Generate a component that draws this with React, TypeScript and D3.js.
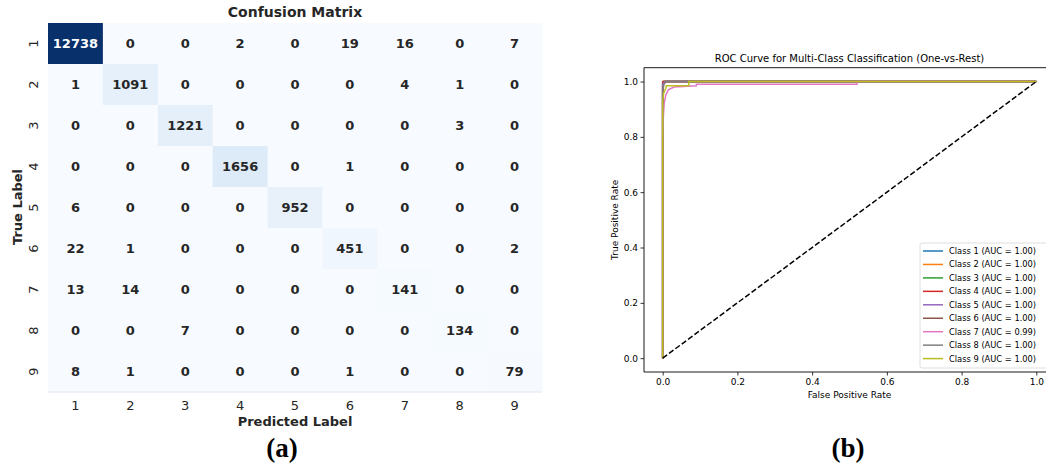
import React, { useEffect, useRef } from "react";
import * as d3 from "d3";

// confusion matrix
const labels = ["1", "2", "3", "4", "5", "6", "7", "8", "9"];
const row1 = [12738, 0, 0, 2, 0, 19, 16, 0, 7];
const row2 = [1, 1091, 0, 0, 0, 0, 4, 1, 0];
const row3 = [0, 0, 1221, 0, 0, 0, 0, 3, 0];
const row4 = [0, 0, 0, 1656, 0, 1, 0, 0, 0];
const row5 = [6, 0, 0, 0, 952, 0, 0, 0, 0];
const row6 = [22, 1, 0, 0, 0, 451, 0, 0, 2];
const row7 = [13, 14, 0, 0, 0, 0, 141, 0, 0];
const row8 = [0, 0, 7, 0, 0, 0, 0, 134, 0];
const row9 = [8, 1, 0, 0, 0, 1, 0, 0, 79];
const matrix = [row1, row2, row3, row4, row5, row6, row7, row8, row9];

// ROC curves
const classNames = ["Class 1", "Class 2", "Class 3", "Class 4", "Class 5", "Class 6", "Class 7", "Class 8", "Class 9"];
const aucValues = ["1.00", "1.00", "1.00", "1.00", "1.00", "1.00", "0.99", "1.00", "1.00"];
const fpr1 = [0, 0, 0.001, 0.004, 1];
const tpr1 = [0, 0.985, 0.995, 1, 1];
const fpr2 = [0, 0, 0.002, 1];
const tpr2 = [0, 0.99, 1, 1];
const fpr3 = [0, 0, 0.001, 1];
const tpr3 = [0, 0.997, 1, 1];
const fpr4 = [0, 0, 0.001, 1];
const tpr4 = [0, 0.998, 1, 1];
const fpr5 = [0, 0, 0.002, 0.006, 1];
const tpr5 = [0, 0.99, 0.995, 1, 1];
const fpr6 = [0, 0, 0.003, 0.008, 1];
const tpr6 = [0, 0.96, 0.99, 1, 1];
const fpr7 = [0, 0, 0.002, 0.004, 0.008, 0.015, 0.03, 0.09, 0.09, 0.52, 0.52, 1];
const tpr7 = [0, 0.8, 0.88, 0.92, 0.95, 0.97, 0.98, 0.985, 0.99, 0.99, 1, 1];
const fpr8 = [0, 0, 0.002, 0.01, 1];
const tpr8 = [0, 0.95, 0.99, 1, 1];
const fpr9 = [0, 0, 0.003, 0.008, 0.01, 0.07, 0.07, 1];
const tpr9 = [0, 0.93, 0.96, 0.975, 0.985, 0.985, 1, 1];
const fprs = [fpr1, fpr2, fpr3, fpr4, fpr5, fpr6, fpr7, fpr8, fpr9];
const tprs = [tpr1, tpr2, tpr3, tpr4, tpr5, tpr6, tpr7, tpr8, tpr9];
const rocTicks = [0, 0.2, 0.4, 0.6, 0.8, 1.0];

const palette = d3.schemeCategory10;
const sans = "'DejaVu Sans', sans-serif";
const serif = "'Liberation Serif', 'DejaVu Serif', serif";

export default function App() {
    const ref = useRef<SVGSVGElement>(null);

    useEffect(() => {
        const svg = d3.select(ref.current);
        svg.selectAll("*").remove();

        // ---------- (a) confusion matrix ----------
        const hx = d3.scaleBand().domain(labels).range([48, 542]);
        const hy = d3.scaleBand().domain(labels).range([23, 392]);
        const vmax = d3.max(matrix.flat()) as number;
        const color = d3.scaleSequential(d3.interpolateBlues).domain([0, vmax]);

        const cells = matrix.flatMap((r, i) => r.map((v, j) => ({ row: labels[i], col: labels[j], v })));
        const g = svg.append("g");
        g.selectAll("rect")
            .data(cells)
            .join("rect")
            .attr("x", (d) => hx(d.col)!)
            .attr("y", (d) => hy(d.row)!)
            .attr("width", hx.bandwidth() + 0.5)
            .attr("height", hy.bandwidth() + 0.5)
            .attr("fill", (d) => color(d.v));

        g.selectAll("text.ann")
            .data(cells)
            .join("text")
            .attr("class", "ann")
            .attr("x", (d) => hx(d.col)! + hx.bandwidth() / 2)
            .attr("y", (d) => hy(d.row)! + hy.bandwidth() / 2)
            .attr("text-anchor", "middle")
            .attr("dominant-baseline", "central")
            .attr("font-family", sans)
            .attr("font-weight", "bold")
            .attr("font-size", 13)
            .attr("fill", (d) => (d.v / vmax > 0.5 ? "#ffffff" : "#262626"))
            .text((d) => d.v);

        g.append("line")
            .attr("x1", 48).attr("x2", 542).attr("y1", 392).attr("y2", 392)
            .attr("stroke", "#e4e6f2").attr("stroke-width", 1);

        g.selectAll("text.xt")
            .data(labels)
            .join("text")
            .attr("class", "xt")
            .attr("x", (d) => hx(d)! + hx.bandwidth() / 2)
            .attr("y", 410)
            .attr("text-anchor", "middle")
            .attr("font-family", sans)
            .attr("font-size", 13)
            .attr("fill", "#262626")
            .text((d) => d);

        g.selectAll("text.yt")
            .data(labels)
            .join("text")
            .attr("class", "yt")
            .attr("transform", (d) => `translate(33,${hy(d)! + hy.bandwidth() / 2}) rotate(-90)`)
            .attr("text-anchor", "middle")
            .attr("dominant-baseline", "central")
            .attr("font-family", sans)
            .attr("font-size", 13)
            .attr("fill", "#262626")
            .text((d) => d);

        g.append("text")
            .attr("x", 295).attr("y", 17)
            .attr("text-anchor", "middle")
            .attr("font-family", sans).attr("font-weight", "bold").attr("font-size", 14)
            .attr("fill", "#262626")
            .text("Confusion Matrix");
        g.append("text")
            .attr("x", 295).attr("y", 426)
            .attr("text-anchor", "middle")
            .attr("font-family", sans).attr("font-weight", "bold").attr("font-size", 13)
            .attr("fill", "#262626")
            .text("Predicted Label");
        g.append("text")
            .attr("transform", "translate(17.5,207) rotate(-90)")
            .attr("text-anchor", "middle")
            .attr("dominant-baseline", "central")
            .attr("font-family", sans).attr("font-weight", "bold").attr("font-size", 13)
            .attr("fill", "#262626")
            .text("True Label");
        g.append("text")
            .attr("x", 282).attr("y", 457)
            .attr("text-anchor", "middle")
            .attr("font-family", serif).attr("font-weight", "bold").attr("font-size", 27)
            .attr("fill", "#000")
            .text("(a)");

        // ---------- (b) ROC ----------
        const left = 644, right = 1055, top = 67.7, bottom = 372;
        const x = d3.scaleLinear().domain([-0.05, 1.05]).range([left, right]);
        const y = d3.scaleLinear().domain([-0.05, 1.05]).range([bottom, top]);
        const r = svg.append("g");

        const line = d3.line<[number, number]>().x((d) => x(d[0])).y((d) => y(d[1]));
        fprs.forEach((f, i) => {
            const pts = f.map((v, k) => [v, tprs[i][k]] as [number, number]);
            r.append("path")
                .attr("d", line(pts)!)
                .attr("fill", "none")
                .attr("stroke", palette[i])
                .attr("stroke-width", 1.5);
        });
        r.append("path")
            .attr("d", line([[0, 0], [1, 1]])!)
            .attr("fill", "none")
            .attr("stroke", "#000")
            .attr("stroke-width", 1.5)
            .attr("stroke-dasharray", "5.5,2.4");

        const xAxis = r.append("g")
            .attr("transform", `translate(0,${bottom})`)
            .call(d3.axisBottom(x).tickValues(rocTicks).tickFormat(d3.format(".1f")).tickSize(3.5).tickPadding(3));
        const yAxis = r.append("g")
            .attr("transform", `translate(${left},0)`)
            .call(d3.axisLeft(y).tickValues(rocTicks).tickFormat(d3.format(".1f")).tickSize(3.5).tickPadding(2.5));
        [xAxis, yAxis].forEach((a) => {
            a.select(".domain").remove();
            a.selectAll("text").attr("font-family", sans).attr("font-size", 9).attr("fill", "#000");
            a.selectAll("line").attr("stroke", "#000").attr("stroke-width", 0.8);
        });

        // spines
        r.append("path")
            .attr("d", `M${right},${top}H${left}V${bottom}H${right}`)
            .attr("fill", "none").attr("stroke", "#000").attr("stroke-width", 0.9);

        r.append("text")
            .attr("x", (left + right) / 2).attr("y", 62)
            .attr("text-anchor", "middle")
            .attr("font-family", sans).attr("font-size", 10)
            .text("ROC Curve for Multi-Class Classification (One-vs-Rest)");
        r.append("text")
            .attr("x", x(0.5)).attr("y", 398)
            .attr("text-anchor", "middle")
            .attr("font-family", sans).attr("font-size", 9)
            .text("False Positive Rate");
        r.append("text")
            .attr("transform", `translate(615,${y(0.5)}) rotate(-90)`)
            .attr("text-anchor", "middle")
            .attr("dominant-baseline", "central")
            .attr("font-family", sans).attr("font-size", 9)
            .text("True Positive Rate");

        // legend
        const lg = r.append("g");
        lg.append("rect")
            .attr("x", 920).attr("y", 243).attr("width", 131).attr("height", 125).attr("rx", 2)
            .attr("fill", "#fff").attr("fill-opacity", 0.8)
            .attr("stroke", "#d5d5d5").attr("stroke-width", 0.8);
        classNames.forEach((name, i) => {
            const cy = 251 + i * 13.45;
            lg.append("line")
                .attr("x1", 923).attr("x2", 943).attr("y1", cy).attr("y2", cy)
                .attr("stroke", palette[i]).attr("stroke-width", 1.5);
            lg.append("text")
                .attr("x", 949).attr("y", cy)
                .attr("dominant-baseline", "central")
                .attr("font-family", sans).attr("font-size", 8.3)
                .text(`${name} (AUC = ${aucValues[i]})`);
        });

        svg.append("text")
            .attr("x", 848).attr("y", 457)
            .attr("text-anchor", "middle")
            .attr("font-family", serif).attr("font-weight", "bold").attr("font-size", 27)
            .attr("fill", "#000")
            .text("(b)");
    }, []);

    return (
        <svg
            ref={ref}
            width={1046}
            height={470}
            style={{ position: "absolute", left: 0, top: 0, background: "#fff" }}
        />
    );
}
